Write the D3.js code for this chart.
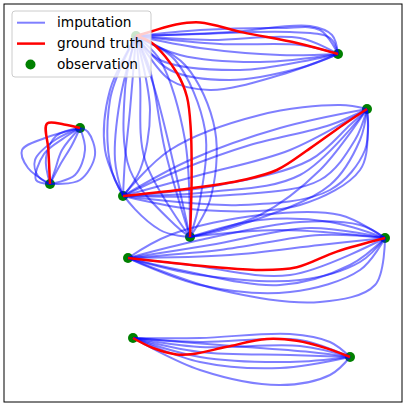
<!DOCTYPE html>
<html>
<head>
<meta charset="utf-8">
<script src="https://cdn.jsdelivr.net/npm/d3@7"></script>
<style>
  body { margin: 0; background: #fff; }
  svg { display: block; font-family: "DejaVu Sans", sans-serif; }
</style>
</head>
<body>
<svg width="407" height="407"></svg>
<script>
// observed points
var observations = [
    {id: 'A', x: 34,    y: 91.5},
    {id: 'B', x: 84.5,  y: 87},
    {id: 'C', x: 91.75, y: 73.25},
    {id: 'D', x: 30.75, y: 51.5},
    {id: 'E', x: 47.5,  y: 41.25},
    {id: 'F', x: 96.25, y: 41},
    {id: 'G', x: 32,    y: 36},
    {id: 'H', x: 33.25, y: 16},
    {id: 'I', x: 87.5,  y: 11.25},
    {id: 'J', x: 20,    y: 68.5},
    {id: 'K', x: 12.5,  y: 54.5}
];

// ground truth trajectories between observations
var groundTruth = [
    {from: 'J', to: 'K', via: [[16, 69.4], [11.75, 69.6], [12.1, 63]]},
    {from: 'A', to: 'B', via: [[38, 92.7], [44, 94.4], [50, 94.9], [60.75, 92.4], [74.25, 89.75]]},
    {from: 'A', to: 'E', via: [[38, 89.75], [44.25, 82.25], [46.75, 76.25], [47.7, 68], [47.9, 55.5]]},
    {from: 'D', to: 'C', via: [[47.5, 53.4], [60.75, 55.5], [69.2, 58], [77.5, 63.4], [85.75, 69.25]]},
    {from: 'G', to: 'F', via: [[40, 35.1], [52.5, 33.8], [65, 33], [74.2, 33.7], [84.2, 37.6]]},
    {from: 'H', to: 'I', via: [[38.25, 13.5], [44.2, 11.9], [48.25, 12], [56.7, 13.8], [66.7, 15.75], [74.2, 15.3], [81.7, 13.4]]}
];

// sampled imputations
var imputations = [
    // J - K
    {from: 'K', to: 'J', via: [[7, 58.5], [5.5, 63], [11.25, 66]]},
    {from: 'K', to: 'J', via: [[9.5, 56.5], [8.75, 60.5], [13.75, 65.5]]},
    {from: 'K', to: 'J', via: [[13.75, 58], [15.5, 63]]},
    {from: 'K', to: 'J', via: [[15, 59.25], [18, 64.25]]},
    {from: 'K', to: 'J', via: [[20, 55.5], [23.75, 61.75], [22, 67.5]]},
    {from: 'K', to: 'J', via: [[18.75, 56.75], [21.25, 63]]},
    {from: 'K', to: 'J', via: [[11.5, 61], [14, 66.5]]},
    {from: 'K', to: 'J', via: [[9, 55.5], [11, 62], [16, 66]]},
    // A - B
    {from: 'A', to: 'B', via: [[50, 93], [70, 93.5], [80, 93]]},
    {from: 'A', to: 'B', via: [[50, 92], [72.5, 92.5], [82.5, 91]]},
    {from: 'A', to: 'B', via: [[52.5, 90.5], [75, 91]]},
    {from: 'A', to: 'B', via: [[55, 89.5], [75, 89.25]]},
    {from: 'A', to: 'B', via: [[50, 88.5], [70, 86.75]]},
    {from: 'A', to: 'B', via: [[45, 86.75], [65, 85]]},
    {from: 'A', to: 'B', via: [[42.5, 83], [57.5, 80.5], [75, 83.5]]},
    {from: 'A', to: 'B', via: [[42.5, 80.5], [52.5, 78], [70, 81.75]]},
    {from: 'A', to: 'B', via: [[40, 85.5], [60, 83], [77.5, 85.5]]},
    {from: 'A', to: 'B', via: [[57.5, 92.5], [77.5, 94], [83, 91.75]]},
    // A - E
    {from: 'A', to: 'E', via: [[31.25, 78], [32.5, 58], [43.75, 44.25]]},
    {from: 'A', to: 'E', via: [[35, 80.5], [36.25, 60.5]]},
    {from: 'A', to: 'E', via: [[37.5, 83], [41.25, 63]]},
    {from: 'A', to: 'E', via: [[40, 85.5], [46.25, 65.5]]},
    {from: 'A', to: 'E', via: [[43.75, 85.5], [51.25, 68], [50, 50.5]]},
    {from: 'A', to: 'E', via: [[46.25, 84.25], [53.75, 68], [52.5, 50.5]]},
    {from: 'A', to: 'E', via: [[38.75, 78], [43.75, 58]]},
    {from: 'A', to: 'E', via: [[27.5, 75.5], [28.75, 55.5], [40, 43]]},
    // A - D
    {from: 'A', to: 'D', via: [[27.5, 78], [26.25, 63]]},
    {from: 'A', to: 'D', via: [[30, 75.5], [28.75, 60.5]]},
    {from: 'A', to: 'D', via: [[37.5, 73], [35, 58]]},
    {from: 'A', to: 'D', via: [[32.5, 73], [31.25, 60.5]]},
    // D - C
    {from: 'D', to: 'C', via: [[42.5, 63], [65, 71.75], [85, 74.25]]},
    {from: 'D', to: 'C', via: [[47.5, 60.5], [70, 68.5]]},
    {from: 'D', to: 'C', via: [[50, 56.75], [72.5, 63]]},
    {from: 'D', to: 'C', via: [[55, 54.25], [77.5, 60.5], [87.5, 69.25]]},
    {from: 'D', to: 'C', via: [[57.5, 51.75], [80, 55.5], [88.75, 65.5]]},
    {from: 'D', to: 'C', via: [[60, 49.25], [82.5, 53], [91.25, 63]]},
    {from: 'D', to: 'C', via: [[50, 48], [75, 49.25], [90, 58], [92, 68]]},
    {from: 'D', to: 'C', via: [[45, 58], [62.5, 64.25], [82.5, 69.25]]},
    {from: 'D', to: 'C', via: [[52.5, 52.5], [75, 56.75]]},
    // E - C
    {from: 'E', to: 'C', via: [[65, 46.75], [80, 58]]},
    {from: 'E', to: 'C', via: [[60, 44.25], [82.5, 54.25], [90, 65.5]]},
    // G - F
    {from: 'G', to: 'F', via: [[50, 40.5], [75, 45], [90, 44.25]]},
    {from: 'G', to: 'F', via: [[52.5, 39.25], [77.5, 43.5]]},
    {from: 'G', to: 'F', via: [[55, 38], [80, 41.75]]},
    {from: 'G', to: 'F', via: [[57.5, 36.75], [80, 39.25]]},
    {from: 'G', to: 'F', via: [[50, 31.75], [75, 30.5], [90, 35]]},
    {from: 'G', to: 'F', via: [[50, 29.25], [72.5, 27.5], [90, 33]]},
    {from: 'G', to: 'F', via: [[55, 28], [80, 25], [93.75, 29.25]]},
    {from: 'G', to: 'F', via: [[45, 33], [70, 29.25], [87.5, 34.25]]},
    {from: 'G', to: 'F', via: [[47.5, 34.25], [72.5, 31.75]]},
    {from: 'G', to: 'F', via: [[42.5, 41.75], [65, 46.75], [85, 46.75]]},
    // E - F
    {from: 'E', to: 'F', via: [[65, 45.5], [82.5, 45]]},
    {from: 'E', to: 'F', via: [[70, 43]]},
    // H - I
    {from: 'H', to: 'I', via: [[50, 16], [72.5, 17], [82.5, 15]]},
    {from: 'H', to: 'I', via: [[50, 15], [75, 15.5]]},
    {from: 'H', to: 'I', via: [[50, 13.75], [75, 14]]},
    {from: 'H', to: 'I', via: [[50, 12.5], [72.5, 11.75]]},
    {from: 'H', to: 'I', via: [[50, 11.25], [72.5, 10]]},
    {from: 'H', to: 'I', via: [[50, 10], [70, 8.5]]},
    {from: 'H', to: 'I', via: [[50, 8], [70, 4.25], [82.5, 6.75]]},
    {from: 'H', to: 'I', via: [[55, 14.25], [77.5, 12.5]]}
];

var legendLabels = ['imputation', 'ground truth', 'observation'];

var svg = d3.select('svg');

svg.append('rect')
    .attr('width', 407)
    .attr('height', 407)
    .attr('fill', '#fff');

var x = d3.scaleLinear().domain([1, 100.5]).range([4, 402]);
var y = d3.scaleLinear().domain([0, 99.5]).range([402, 4]);

var byId = {};
observations.forEach(function(d){ byId[d.id] = d; });

function fullPath(seg){
    var a = byId[seg.from], b = byId[seg.to];
    return [[a.x, a.y]].concat(seg.via).concat([[b.x, b.y]]);
}

var lineFunction = d3.line()
    .curve(d3.curveCatmullRom.alpha(0.5))
    .x(function(d){ return x(d[0]); })
    .y(function(d){ return y(d[1]); });

var plot = svg.append('g');

plot.selectAll('circle.obs')
    .data(observations)
    .enter()
    .append('circle')
    .attr('class', 'obs')
    .attr('cx', function(d){ return x(d.x); })
    .attr('cy', function(d){ return y(d.y); })
    .attr('r', 5)
    .attr('fill', 'green');

plot.selectAll('path.imp')
    .data(imputations)
    .enter()
    .append('path')
    .attr('class', 'imp')
    .attr('d', function(d){ return lineFunction(fullPath(d)); })
    .attr('fill', 'none')
    .attr('stroke', 'blue')
    .attr('stroke-opacity', 0.5)
    .attr('stroke-width', 2);

plot.selectAll('path.truth')
    .data(groundTruth)
    .enter()
    .append('path')
    .attr('class', 'truth')
    .attr('d', function(d){ return lineFunction(fullPath(d)); })
    .attr('fill', 'none')
    .attr('stroke', 'red')
    .attr('stroke-width', 2.5);

// axes frame
svg.append('rect')
    .attr('x', 4)
    .attr('y', 4)
    .attr('width', 398)
    .attr('height', 398)
    .attr('fill', 'none')
    .attr('stroke', '#000')
    .attr('stroke-width', 1);

// legend
var legend = svg.append('g').attr('transform', 'translate(12,11)');

legend.append('rect')
    .attr('width', 139)
    .attr('height', 66)
    .attr('rx', 3)
    .attr('fill', '#fff')
    .attr('fill-opacity', 0.8)
    .attr('stroke', '#ccc')
    .attr('stroke-width', 1);

var rows = legend.selectAll('g.row')
    .data(legendLabels)
    .enter()
    .append('g')
    .attr('class', 'row')
    .attr('transform', function(d, i){ return 'translate(0,' + (11.7 + i * 20.9) + ')'; });

rows.each(function(d, i){
    var g = d3.select(this);
    if (i === 0) {
        g.append('line').attr('x1', 5).attr('x2', 33)
            .attr('stroke', 'blue').attr('stroke-opacity', 0.5).attr('stroke-width', 2);
    } else if (i === 1) {
        g.append('line').attr('x1', 5).attr('x2', 33)
            .attr('stroke', 'red').attr('stroke-width', 2.5);
    } else {
        g.append('circle').attr('cx', 18.5).attr('r', 5).attr('fill', 'green');
    }
    g.append('text')
        .attr('x', 45)
        .attr('y', 0)
        .attr('dy', '0.35em')
        .attr('font-size', 13.7)
        .attr('fill', '#000')
        .text(d);
});
</script>
</body>
</html>
